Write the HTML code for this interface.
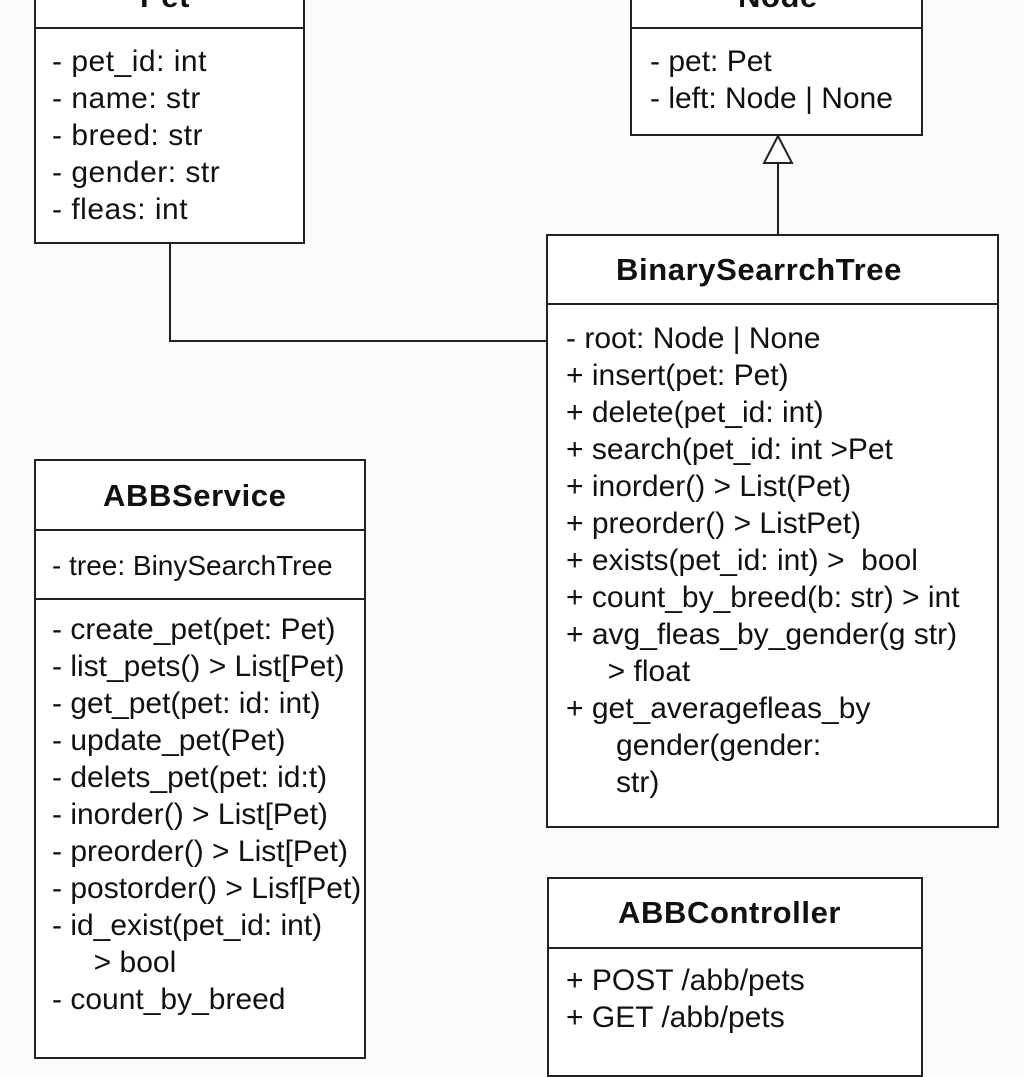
<!DOCTYPE html>
<html><head><meta charset="utf-8"><style>
body{margin:0;width:1024px;height:1024px;background:#fbfbfb;overflow:hidden;position:relative;font-family:"Liberation Sans",sans-serif;color:#111}
.box{position:absolute;border:2px solid #222;background:#fff;box-sizing:border-box}
.sep{position:absolute;left:0;right:0;border-top:2px solid #222}
.t{position:absolute;font-size:30px;white-space:nowrap;line-height:37px}
.b{font-weight:bold;font-size:31px;letter-spacing:0.6px}
</style></head><body>
<div class="box" style="left:34px;top:-40px;width:271px;height:284px">
<div class="sep" style="top:65px"></div></div>
<div class="t b" style="left:140px;top:-22px">Pet</div>
<div class="t" style="left:52px;top:43px;letter-spacing:0.5px">- pet_id: int<br>- name: str<br>- breed: str<br>- gender: str<br>- fleas: int</div>
<div class="box" style="left:630px;top:-40px;width:293px;height:176px">
<div class="sep" style="top:65px"></div></div>
<div class="t b" style="left:738px;top:-22px">Node</div>
<div class="t" style="left:650px;top:43px">- pet: Pet<br>- left: Node | None</div>
<svg style="position:absolute;left:0;top:0" width="1024" height="1024">
<polygon points="778,136 764,163 792,163" fill="#fff" stroke="#222" stroke-width="2"/>
<line x1="778" y1="163" x2="778" y2="235" stroke="#222" stroke-width="2"/>
<polyline points="170,243 170,341 547,341" fill="none" stroke="#222" stroke-width="2"/>
</svg>
<div class="box" style="left:546px;top:234px;width:453px;height:594px">
<div class="sep" style="top:67px"></div></div>
<div class="t b" style="left:616px;top:251px">BinarySearrchTree</div>
<div class="t" style="left:566px;top:320px">- root: Node | None<br>+ insert(pet: Pet)<br>+ delete(pet_id: int)<br>+ search(pet_id: int &gt;Pet<br>+ inorder() &gt; List(Pet)<br>+ preorder() &gt; ListPet)<br>+ exists(pet_id: int) &gt;&nbsp; bool<br>+ count_by_breed(b: str) &gt; int<br>+ avg_fleas_by_gender(g str)<br>&nbsp;&nbsp;&nbsp;&nbsp;&nbsp;&gt; float<br>+ get_averagefleas_by<br>&nbsp;&nbsp;&nbsp;&nbsp;&nbsp;&nbsp;gender(gender:<br>&nbsp;&nbsp;&nbsp;&nbsp;&nbsp;&nbsp;str)</div>
<div class="box" style="left:34px;top:459px;width:332px;height:600px">
<div class="sep" style="top:68px"></div><div class="sep" style="top:137px"></div></div>
<div class="t b" style="left:103px;top:477px">ABBService</div>
<div class="t" style="left:52px;top:547px;font-size:28px">- tree: BinySearchTree</div>
<div class="t" style="left:52px;top:611px">- create_pet(pet: Pet)<br>- list_pets() &gt; List[Pet)<br>- get_pet(pet: id: int)<br>- update_pet(Pet)<br>- delets_pet(pet: id:t)<br>- inorder() &gt; List[Pet)<br>- preorder() &gt; List[Pet)<br>- postorder() &gt; Lisf[Pet)<br>- id_exist(pet_id: int)<br>&nbsp;&nbsp;&nbsp;&nbsp;&nbsp;&gt; bool<br>- count_by_breed</div>
<div class="box" style="left:547px;top:877px;width:376px;height:200px">
<div class="sep" style="top:68px"></div></div>
<div class="t b" style="left:618px;top:894px">ABBController</div>
<div class="t" style="left:566px;top:962px">+ POST /abb/pets<br>+ GET /abb/pets</div>
</body></html>
